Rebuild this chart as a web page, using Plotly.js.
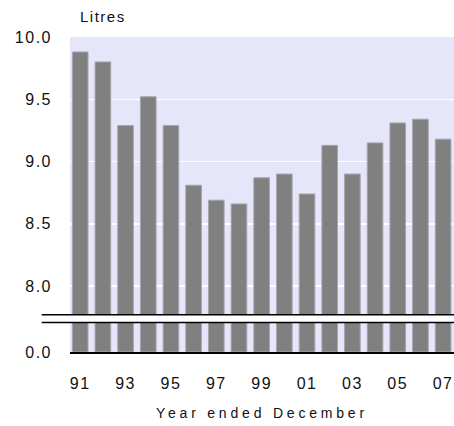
<!DOCTYPE html>
<html>
<head>
<meta charset="utf-8">
<script src="https://cdn.plot.ly/plotly-3.0.1.min.js"></script>
<style>
html,body{margin:0;padding:0;background:#fff;}
#chart{width:454px;height:426px;}
text.x2title{letter-spacing:3.8px;}
.xtick text, .ytick text, .annotation-text, .x2tick text, .y2tick text{letter-spacing:1.5px;}
</style>
</head>
<body>
<div id="chart"></div>
<script>
const years = ['91','92','93','94','95','96','97','98','99','00','01','02','03','04','05','06','07'];
const litres = [9.88, 9.80, 9.29, 9.52, 9.29, 8.81, 8.69, 8.66, 8.87, 8.90, 8.74, 9.13, 8.90, 9.15, 9.31, 9.34, 9.18];
const xTickLabels = ['91','93','95','97','99','01','03','05','07'];
const yTickValues = [8.0, 8.5, 9.0, 9.5, 10.0];
const yUnitLabel = 'Litres';
const xAxisTitle = 'Year ended December';

const W = 454, H = 426;
const mL = 70, mR = 0, mT = 36.6, mB = 426 - 352.3;
const plotH = H - mT - mB;
const topDomainBottom = (352.3 - 315) / plotH;
const lowDomainTop = (352.3 - 322.7) / plotH;

const font = {family: '"Liberation Sans", Arial, sans-serif', size: 16, color: '#111111'};
const barStyle = {color: '#808080', line: {color: '#a6a6b0', width: 1}};

const traces = [
  {type: 'bar', x: years, y: litres, xaxis: 'x', yaxis: 'y', marker: barStyle, hoverinfo: 'skip'},
  {type: 'bar', x: years, y: litres, xaxis: 'x2', yaxis: 'y2', marker: barStyle, hoverinfo: 'skip'}
];

const xRange = [-0.45, 16.48];
const layout = {
  width: W, height: H,
  margin: {l: mL, r: mR, t: mT, b: mB, pad: 0},
  paper_bgcolor: '#ffffff',
  plot_bgcolor: '#e6e6fa',
  showlegend: false,
  bargap: 0.31,
  font: font,
  xaxis: {
    type: 'category', range: xRange, anchor: 'y', domain: [0, 1],
    showticklabels: false, ticks: '', showgrid: false, zeroline: false, showline: false
  },
  yaxis: {
    domain: [topDomainBottom, 1], range: [7.77, 10], anchor: 'x',
    tickvals: yTickValues, tickformat: '.1f', ticks: '', ticklabelstandoff: 17,
    showgrid: true, gridcolor: '#ffffff', gridwidth: 1.5, zeroline: false, showline: false,
    tickfont: font
  },
  xaxis2: {
    type: 'category', range: xRange, anchor: 'y2', domain: [0, 1],
    tickvals: xTickLabels, ticktext: xTickLabels, ticks: '', ticklabelstandoff: 16,
    showgrid: false, zeroline: false, showline: true, linecolor: '#000000', linewidth: 1.5,
    tickfont: font,
    title: {text: xAxisTitle, font: {family: font.family, size: 14, color: '#111111'}, standoff: 17}
  },
  yaxis2: {
    domain: [0, lowDomainTop], range: [0, 1], anchor: 'x2',
    tickvals: [0], ticktext: ['0.0'], ticks: '', ticklabelstandoff: 17,
    showgrid: false, zeroline: false, showline: false, tickfont: font
  },
  shapes: [
    {type: 'line', xref: 'paper', yref: 'paper', x0: (41.7 - mL) / (W - mL - mR), x1: 1, y0: topDomainBottom, y1: topDomainBottom,
     line: {color: '#000000', width: 1.5}},
    {type: 'line', xref: 'paper', yref: 'paper', x0: (41.7 - mL) / (W - mL - mR), x1: 1, y0: lowDomainTop, y1: lowDomainTop,
     line: {color: '#000000', width: 1.5}}
  ],
  annotations: [
    {text: yUnitLabel, xref: 'paper', yref: 'paper', x: (78 - mL) / (W - mL - mR), y: 1, xanchor: 'left', yanchor: 'bottom',
     yshift: 10, showarrow: false, font: {family: font.family, size: 15, color: '#111111'}}
  ]
};

Plotly.newPlot('chart', traces, layout, {displayModeBar: false, staticPlot: true});
</script>
</body>
</html>
